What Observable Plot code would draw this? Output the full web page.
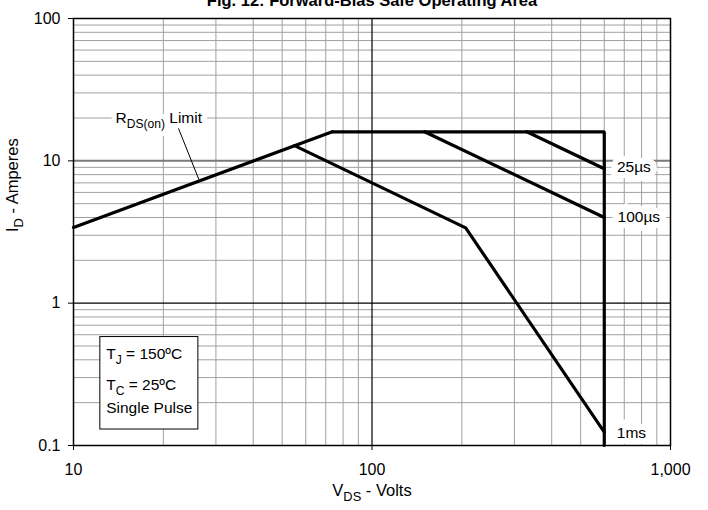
<!DOCTYPE html>
<html>
<head>
<meta charset="utf-8">
<script src="https://cdn.jsdelivr.net/npm/d3@7"></script>
<script src="https://cdn.jsdelivr.net/npm/@observablehq/plot@0.6"></script>
<style>
  html, body { margin: 0; padding: 0; background: #fff; overflow: hidden; }
  #chart svg { display: block; }
</style>
</head>
<body>
<div id="chart"></div>
<script>
// ---- axes / ticks ----
const xTicks = [10, 100, 1000];
const yTicks = [0.1, 1, 10, 100];
const xMinor = [20, 30, 40, 50, 60, 70, 80, 90, 200, 300, 400, 500, 600, 700, 800, 900];
const yMinor = [0.2, 0.3, 0.4, 0.5, 0.6, 0.7, 0.8, 0.9, 2, 3, 4, 5, 6, 7, 8, 9, 20, 30, 40, 50, 60, 70, 80, 90];

// ---- series (V_DS in volts, I_D in amperes) ----
const rdsV = [10, 73.6];          const rdsI = [3.4, 16];           // R_DS(on) limit
const dcV = [73.6, 600, 600];     const dcI = [16, 16, 0.1];        // current limit + V_DSS
const ms1V = [55, 206, 600];      const ms1I = [12.8, 3.38, 0.124]; // 1 ms
const us100V = [150, 600];        const us100I = [16, 4.0];         // 100 µs
const us25V = [330, 600];         const us25I = [16, 8.8];          // 25 µs

// ---- annotations ----
const curveLabels = ["25µs", "100µs", "1ms"];
const curveLabelV = [754, 783, 740];
const curveLabelI = [9.0, 4.06, 0.122];

const rdsLabel = ["R_{DS(on)} Limit"];
const rdsLabelV = [13.83];
const rdsLabelI = [20];
const leaderV = [22.5, 26.3];
const leaderI = [16.8, 7.4];

const boxLines = ["T_{J} = 150ºC", "T_{C} = 25ºC", "Single Pulse"];
const boxLineV = [12.87, 12.87, 12.87];
const boxLineI = [0.437, 0.264, 0.1825];
const boxV = [12.3, 26.2];
const boxI = [0.1295, 0.578];

const title = "Fig. 12: Forward-Bias Safe Operating Area";
const xTitle = "V_{DS} - Volts";
const yTitle = "I_{D} - Amperes";

const pts = (V, I) => V.map((v, k) => ({v, i: I[k]}));
const curve = (V, I) => Plot.line(pts(V, I), {x: "v", y: "i", stroke: "black", strokeWidth: 3.2, strokeLinejoin: "miter"});

const rdsOpts = {x: (d, k) => rdsLabelV[k], y: (d, k) => rdsLabelI[k], text: d => d, textAnchor: "start", fontSize: 15.5};
const curveLabelOpts = {x: (d, k) => curveLabelV[k], y: (d, k) => curveLabelI[k], text: d => d, fontSize: 15.5};

const plot = Plot.plot({
  width: 708,
  height: 510,
  marginLeft: 73,
  marginRight: 38,
  marginTop: 18,
  marginBottom: 65,
  x: {type: "log", domain: [10, 1000]},
  y: {type: "log", domain: [0.1, 100]},
  style: {fontFamily: "'Liberation Sans', Arial, sans-serif", fontSize: "16px", color: "black", background: "white", overflow: "visible"},
  marks: [
    Plot.ruleX(xMinor, {stroke: "#a0a0a0", strokeWidth: 1}),
    Plot.ruleY(yMinor, {stroke: "#a0a0a0", strokeWidth: 1}),
    Plot.ruleY([10], {stroke: "#7a7a7a", strokeWidth: 2}),
    Plot.ruleY([1], {stroke: "black", strokeWidth: 1.2}),
    Plot.ruleX([100], {stroke: "black", strokeWidth: 1.2}),
    Plot.frame({stroke: "black", strokeWidth: 1.5}),
    // curves
    curve(rdsV, rdsI),
    curve(dcV, dcI),
    curve(ms1V, ms1I),
    curve(us100V, us100I),
    curve(us25V, us25I),
    // curve labels with white background (halo layer, then text)
    Plot.text(curveLabels, {...curveLabelOpts, fill: "white", stroke: "white", strokeWidth: 12, strokeLinejoin: "miter"}),
    Plot.text(curveLabels, {...curveLabelOpts, fill: "black"}),
    // R_DS(on) label + leader
    Plot.text(rdsLabel, {...rdsOpts, fill: "white", stroke: "white", strokeWidth: 10, strokeLinejoin: "miter"}),
    Plot.text(rdsLabel, {...rdsOpts, fill: "black"}),
    Plot.line(pts(leaderV, leaderI), {x: "v", y: "i", stroke: "black", strokeWidth: 1}),
    // condition box
    Plot.rect([0], {x1: () => boxV[0], x2: () => boxV[1], y1: () => boxI[0], y2: () => boxI[1],
      fill: "white", stroke: "black", strokeWidth: 1}),
    Plot.text(boxLines, {x: (d, k) => boxLineV[k], y: (d, k) => boxLineI[k], text: d => d, textAnchor: "start",
      fontSize: 15.5, fill: "black"}),
    // axes
    Plot.axisX({ticks: xTicks, tickFormat: d3.format(","), tickSize: 5, tickPadding: 13, label: null, fontSize: 16}),
    Plot.axisY({ticks: yTicks, tickFormat: d => String(d), tickSize: 5, tickPadding: 8, label: null, fontSize: 16}),
    // titles
    Plot.text([xTitle], {frameAnchor: "bottom", dy: 50, text: d => d, fontSize: 16.5}),
    Plot.text([yTitle], {frameAnchor: "left", dx: -61, rotate: -90, text: d => d, fontSize: 16.5}),
    Plot.text([title], {frameAnchor: "top", dy: -12.5, lineAnchor: "bottom", text: d => d, fontSize: 16.5, fontWeight: "bold"})
  ]
});

// turn "_{...}" markers into real subscript tspans
function applySubs(svg) {
  const NS = "http://www.w3.org/2000/svg";
  svg.querySelectorAll("text").forEach(el => {
    const targets = el.querySelector("tspan") ? Array.from(el.querySelectorAll("tspan")) : [el];
    targets.forEach(t => {
      const s = t.textContent;
      if (!s.includes("_{")) return;
      const parts = s.split(/(_\{[^}]*\})/).filter(p => p);
      t.textContent = "";
      let shifted = false;
      parts.forEach(p => {
        const ts = document.createElementNS(NS, "tspan");
        if (p.startsWith("_{")) {
          ts.textContent = p.slice(2, -1);
          ts.setAttribute("font-size", "0.78em");
          ts.setAttribute("dy", "5");
          shifted = true;
        } else {
          ts.textContent = p;
          if (shifted) { ts.setAttribute("dy", "-5"); shifted = false; }
        }
        t.appendChild(ts);
      });
    });
  });
}
applySubs(plot);
document.getElementById("chart").appendChild(plot);
</script>
</body>
</html>
